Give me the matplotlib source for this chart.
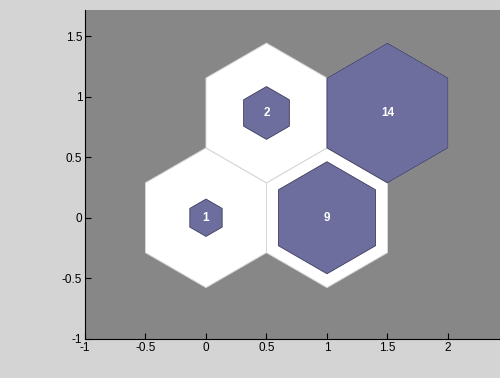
import numpy as np
import matplotlib
matplotlib.use("Agg")
import matplotlib.pyplot as plt
from matplotlib.patches import RegularPolygon

# neuron positions on the hex grid and the number of hits per neuron
pos_x = [0.0, 1.0, 0.5, 1.5]
pos_y = [0.0, 0.0, np.sqrt(3) / 2, np.sqrt(3) / 2]
hits = [1, 9, 2, 14]

x_ticks = [-1, -0.5, 0, 0.5, 1, 1.5, 2]
y_ticks = [-1, -0.5, 0, 0.5, 1, 1.5]

plt.rcParams["font.family"] = ["Liberation Sans", "DejaVu Sans"]

fig = plt.figure(figsize=(5.0, 3.78), dpi=100, facecolor="#d4d4d4")
ax = fig.add_axes([0.17, 0.1032, 0.83, 0.8703])
ax.set_facecolor("#878787")

radius = 1 / np.sqrt(3)
max_hits = max(hits)
for x, y, h in zip(pos_x, pos_y, hits):
    ax.add_patch(RegularPolygon((x, y), 6, radius=radius, orientation=0,
                                facecolor="white", edgecolor="#d6d6d6",
                                linewidth=0.7, zorder=1))
    r = radius * np.sqrt(h / max_hits)
    ax.add_patch(RegularPolygon((x, y), 6, radius=r, orientation=0,
                                facecolor="#6e6e9e", edgecolor="#3c3c5e",
                                linewidth=0.6, zorder=2))
    ax.text(x, y, str(h), color="white", fontsize=8.5, fontweight="bold",
            ha="center", va="center", zorder=3)

ax.set_xlim(-1, 2.43)
ax.set_ylim(-1, 1.715)
ax.set_aspect("equal", adjustable="box")
ax.set_xticks(x_ticks)
ax.set_yticks(y_ticks)
ax.set_xticklabels([f"{t:g}" for t in x_ticks])
ax.set_yticklabels([f"{t:g}" for t in y_ticks])
ax.tick_params(direction="in", length=4, labelsize=8.5, pad=2)
ax.spines["top"].set_visible(False)
ax.spines["right"].set_visible(False)

fig.savefig("out.png", dpi=100, facecolor=fig.get_facecolor())
